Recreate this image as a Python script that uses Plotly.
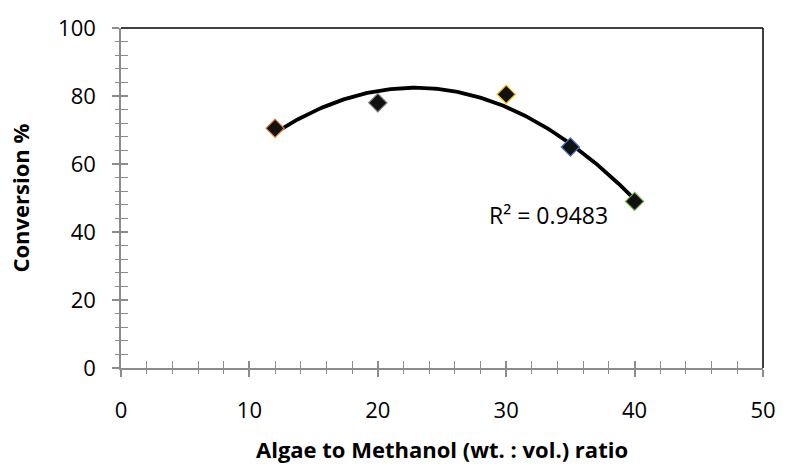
import numpy as np
import plotly.graph_objects as go

ratio = [12, 20, 30, 35, 40]
conversion = [70.5, 78, 80.5, 65, 49]
edge_colors = ["#ED7D31", "#7F7F7F", "#FFC000", "#4472C4", "#70AD47"]
r2_label = "R² = 0.9483"
x_title = "Algae to Methanol (wt. : vol.) ratio"
y_title = "Conversion %"

coef = np.polyfit(ratio, conversion, 2)
xs = np.linspace(min(ratio), max(ratio), 200)
ys = np.polyval(coef, xs)

font = "Open Sans, Liberation Sans, sans-serif"
fig = go.Figure()
fig.add_trace(go.Scatter(x=xs, y=ys, mode="lines", line=dict(color="black", width=3.8),
                         hoverinfo="skip", showlegend=False))
fig.add_trace(go.Scatter(x=ratio, y=conversion, mode="markers", showlegend=False,
                         marker=dict(symbol="diamond", size=14, color="#111111",
                                     line=dict(color=edge_colors, width=1.2))))
# helper invisible trace for inside ticks
fig.add_trace(go.Scatter(x=[0], y=[0], xaxis="x2", yaxis="y2", mode="markers",
                         marker=dict(opacity=0), showlegend=False, hoverinfo="skip"))

axcol = "#8c8c8c"
fig.update_layout(
    width=788, height=470, margin=dict(l=121, r=16, t=24, b=102),
    plot_bgcolor="white", paper_bgcolor="white",
    font=dict(family=font, size=22, color="black"),
    xaxis=dict(range=[0, 50], tickvals=[0, 10, 20, 30, 40, 50], showgrid=False, zeroline=False,
               showline=True, linecolor=axcol, linewidth=1.5, ticks="outside", ticklen=7,
               tickcolor=axcol, tickwidth=1.5, ticklabelstandoff=15,
               minor=dict(dtick=2, ticks="outside", ticklen=4, tickcolor=axcol, tickwidth=1.2,
                          showgrid=False),
               mirror=False),
    yaxis=dict(range=[0, 100], tickvals=[0, 20, 40, 60, 80, 100], showgrid=False, zeroline=False,
               showline=True, linecolor=axcol, linewidth=1.5, ticks="outside", ticklen=7,
               tickcolor=axcol, tickwidth=1.5, ticklabelstandoff=12,
               minor=dict(dtick=4, ticks="outside", ticklen=4, tickcolor=axcol, tickwidth=1.2,
                          showgrid=False)),
    xaxis2=dict(range=[0, 50], overlaying="x", showticklabels=False, showgrid=False, zeroline=False,
                showline=False, tickvals=[0, 10, 20, 30, 40, 50], ticks="inside", ticklen=7,
                tickcolor=axcol, tickwidth=1.5,
                minor=dict(dtick=2, ticks="inside", ticklen=7, tickcolor=axcol, tickwidth=1.2)),
    yaxis2=dict(range=[0, 100], overlaying="y", showticklabels=False, showgrid=False, zeroline=False,
                showline=False, tickvals=[0, 20, 40, 60, 80, 100], ticks="inside", ticklen=7,
                tickcolor=axcol, tickwidth=1.5,
                minor=dict(dtick=4, ticks="inside", ticklen=7, tickcolor=axcol, tickwidth=1.2)),
    shapes=[
        dict(type="line", xref="paper", yref="paper", x0=0, x1=1, y0=1, y1=1,
             line=dict(color="black", width=1.5)),
        dict(type="line", xref="paper", yref="paper", x0=1, x1=1, y0=0, y1=1,
             line=dict(color="black", width=1.5)),
    ],
    annotations=[
        dict(text=r2_label, x=33.3, y=45, xref="x", yref="y", showarrow=False,
             font=dict(size=23, family=font)),
        dict(text="<b>" + x_title + "</b>", x=0.5, y=-0.238, xref="paper", yref="paper",
             showarrow=False, yanchor="middle", font=dict(size=22, family=font)),
        dict(text="<b>" + y_title + "</b>", x=-0.158, y=0.5, xref="paper", yref="paper",
             showarrow=False, textangle=-90, xanchor="center", yanchor="middle",
             font=dict(size=22, family=font)),
    ],
)
fig.write_html("out.html")
